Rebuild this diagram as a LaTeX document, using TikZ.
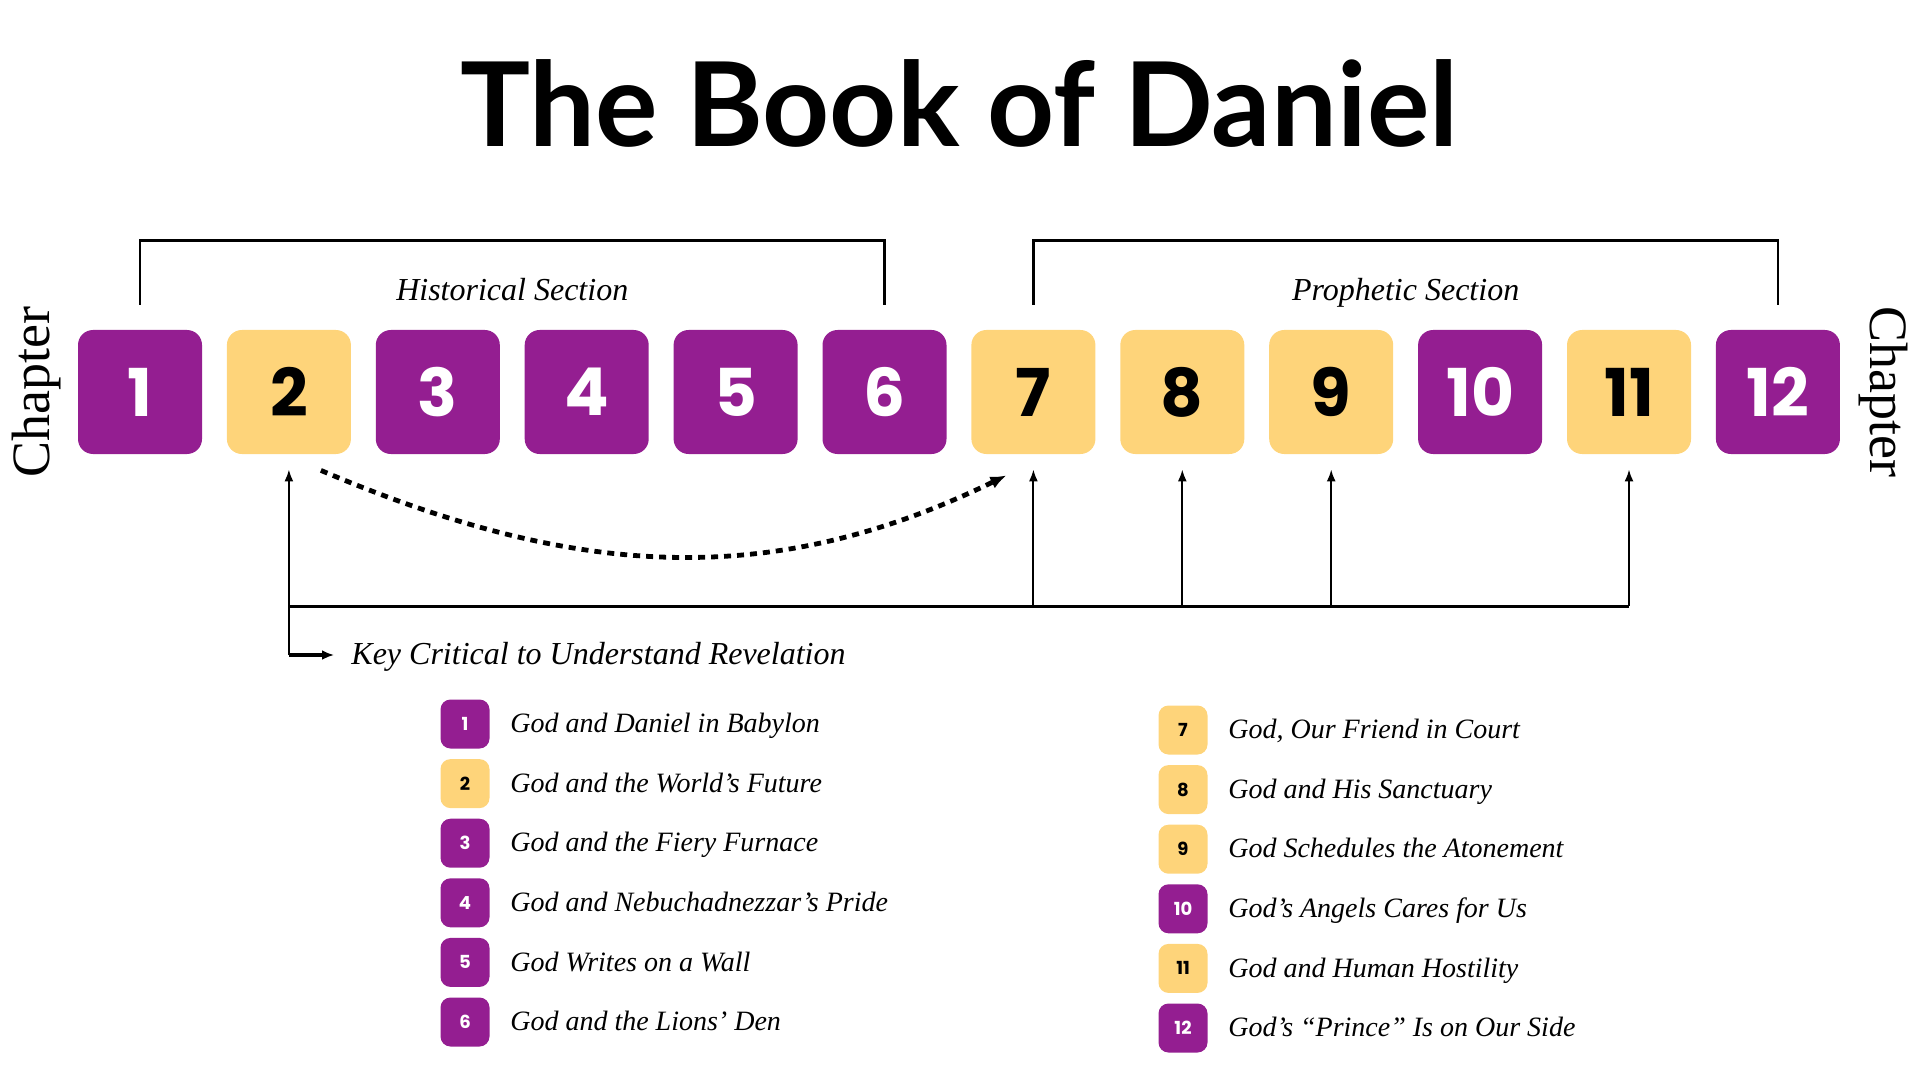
\documentclass[tikz,border=0pt]{standalone}
\usepackage{fontspec}
\setmainfont{Liberation Serif}
\newfontfamily\titlefont{Lato}
\newfontfamily\numfont{Poppins}
\usepackage{tikz}
\usetikzlibrary{arrows.meta,positioning}

\definecolor{danpurple}{RGB}{148,30,145}
\definecolor{danyellow}{RGB}{254,212,122}

\tikzset{
  titletext/.style={font=\titlefont\bfseries\fontsize{58.5}{58.5}\selectfont, anchor=base, inner sep=0pt},
  chapbox/.style={rounded corners=7.5pt, minimum size=62pt, inner sep=0pt,
                  font=\numfont\bfseries\fontsize{33}{33}\selectfont},
  keybox/.style={rounded corners=5pt, minimum size=24.5pt, inner sep=0pt,
                 font=\numfont\bfseries\fontsize{9}{9}\selectfont},
  hist/.style={fill=danpurple, text=white},
  proph/.style={fill=danyellow, text=black},
  chaplabel/.style={font=\fontsize{27}{27}\selectfont, inner sep=0pt},
  sectlabel/.style={font=\itshape\fontsize{16}{16}\selectfont,
                    text height=1.5ex, text depth=.25ex},
  entry/.style={font=\itshape\fontsize{14}{14}\selectfont, inner sep=0pt,
                text height=1.5ex, text depth=.25ex, yshift=-1.5pt},
  keylabel/.style={font=\itshape\fontsize{16}{16}\selectfont, inner sep=0pt,
                   anchor=west, text height=1.5ex, text depth=.25ex},
  secbracket/.style={line width=1.25pt},
  keyarrow/.style={-{Latex[length=6pt,width=4.5pt]}, line width=1pt},
  keybus/.style={line width=1.5pt},
  keypoint/.style={-{Latex[length=6pt,width=5pt]}, line width=1.6pt, shorten >=8.5pt},
  prophecy/.style={-{Latex[length=8pt,width=6.5pt]}, line width=2.4pt,
                   dash pattern=on 3.5pt off 3pt}
}

\begin{document}
\begin{tikzpicture}[x=0.5pt, y=0.5pt, node distance=74.45pt]
  \useasboundingbox (0,0) rectangle (1920,-1080);

  \node[titletext] (title) at (959,-147) {The Book of Daniel};

  % chapters
  \node[chapbox,hist]  (b1)  at (140,-392)    {1};
  \node[chapbox,proph] (b2)  [right of=b1]    {2};
  \node[chapbox,hist]  (b3)  [right of=b2]    {3};
  \node[chapbox,hist]  (b4)  [right of=b3]    {4};
  \node[chapbox,hist]  (b5)  [right of=b4]    {5};
  \node[chapbox,hist]  (b6)  [right of=b5]    {6};
  \node[chapbox,proph] (b7)  [right of=b6]    {7};
  \node[chapbox,proph] (b8)  [right of=b7]    {8};
  \node[chapbox,proph] (b9)  [right of=b8]    {9};
  \node[chapbox,hist]  (b10) [right of=b9]    {10};
  \node[chapbox,proph] (b11) [right of=b10]   {11};
  \node[chapbox,hist]  (b12) [right of=b11]   {12};

  \node[chaplabel,rotate=90]  (chl) at (37,-392)   {Chapter};
  \node[chaplabel,rotate=-90] (chr) at (1883,-392) {Chapter};

  % sections
  \draw[secbracket] ([yshift=12.5pt]b1.north) -- ([yshift=44.5pt]b1.north)
    -- node[sectlabel,yshift=-27pt] (hist) {Historical Section} ([yshift=44.5pt]b6.north)
    -- ([yshift=12.5pt]b6.north);
  \draw[secbracket] ([yshift=12.5pt]b7.north) -- ([yshift=44.5pt]b7.north)
    -- node[sectlabel,yshift=-27pt] (proph) {Prophetic Section} ([yshift=44.5pt]b12.north)
    -- ([yshift=12.5pt]b12.north);

  % key chapters
  \coordinate (bus)  at (0,-606);
  \coordinate (foot) at (0,-655);
  \draw[keybus]   (b2 |- bus) -- (b11 |- bus);
  \draw[keyarrow] (b2 |- foot) -- ([yshift=-7.5pt]b2.south);
  \draw[keyarrow] (b7 |- bus)  -- ([yshift=-7.5pt]b7.south);
  \draw[keyarrow] (b8 |- bus)  -- ([yshift=-7.5pt]b8.south);
  \draw[keyarrow] (b9 |- bus)  -- ([yshift=-7.5pt]b9.south);
  \draw[keyarrow] (b11 |- bus) -- ([yshift=-7.5pt]b11.south);

  \node[keylabel] (key) at (351,-659) {Key Critical to Understand Revelation};
  \draw[keypoint] (b2 |- foot) -- (key.west |- foot);

  \draw[prophecy] ([shift={(16pt,-8pt)}]b2.south) to[out=-23,in=206]
                  ([shift={(-13.5pt,-10.5pt)}]b7.south);

  % legend
  \begin{scope}[node distance=29.8pt]
    \node[keybox,hist]  (k1)  at (465,-724)  {1};
    \node[keybox,proph] (k2)  [below of=k1]  {2};
    \node[keybox,hist]  (k3)  [below of=k2]  {3};
    \node[keybox,hist]  (k4)  [below of=k3]  {4};
    \node[keybox,hist]  (k5)  [below of=k4]  {5};
    \node[keybox,hist]  (k6)  [below of=k5]  {6};
    \node[keybox,proph] (k7)  at (1183,-730) {7};
    \node[keybox,proph] (k8)  [below of=k7]  {8};
    \node[keybox,proph] (k9)  [below of=k8]  {9};
    \node[keybox,hist]  (k10) [below of=k9]  {10};
    \node[keybox,proph] (k11) [below of=k10] {11};
    \node[keybox,hist]  (k12) [below of=k11] {12};
  \end{scope}

  \node[entry] (e1)  [right=10pt of k1]  {God and Daniel in Babylon};
  \node[entry] (e2)  [right=10pt of k2]  {God and the World’s Future};
  \node[entry] (e3)  [right=10pt of k3]  {God and the Fiery Furnace};
  \node[entry] (e4)  [right=10pt of k4]  {God and Nebuchadnezzar’s Pride};
  \node[entry] (e5)  [right=10pt of k5]  {God Writes on a Wall};
  \node[entry] (e6)  [right=10pt of k6]  {God and the Lions’ Den};
  \node[entry] (e7)  [right=10pt of k7]  {God, Our Friend in Court};
  \node[entry] (e8)  [right=10pt of k8]  {God and His Sanctuary};
  \node[entry] (e9)  [right=10pt of k9]  {God Schedules the Atonement};
  \node[entry] (e10) [right=10pt of k10] {God’s Angels Cares for Us};
  \node[entry] (e11) [right=10pt of k11] {God and Human Hostility};
  \node[entry] (e12) [right=10pt of k12] {God’s “Prince” Is on Our Side};
\end{tikzpicture}
\end{document}
